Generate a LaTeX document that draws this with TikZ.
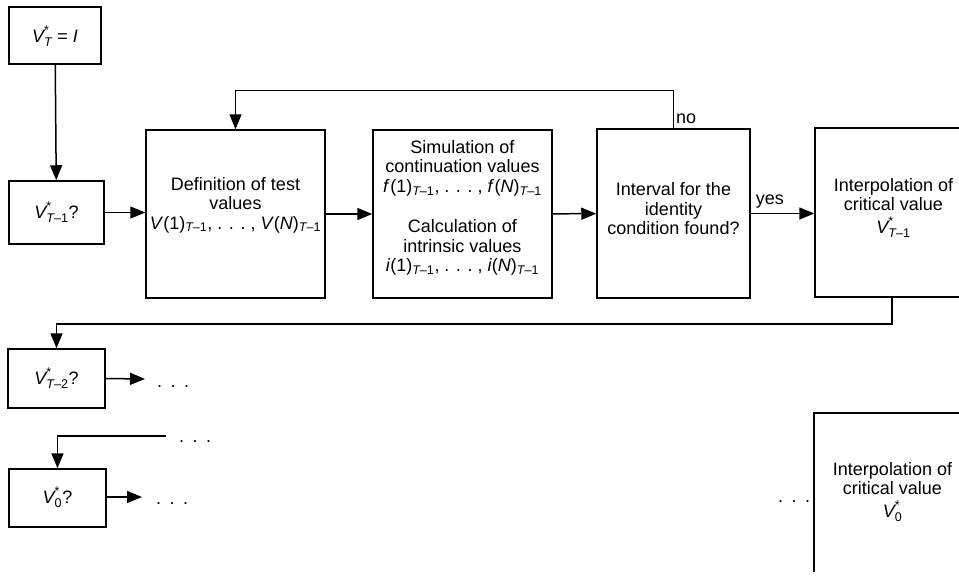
\documentclass[tikz,border=0pt]{standalone}
\usepackage{amsmath}
\usepackage{fontspec}
\setmainfont{Liberation Sans}
\usetikzlibrary{arrows.meta}
\newcommand\subT[1]{$_{\textit{T}\text{–#1}}$}
\newcommand\Vst[1]{$\textit{V}^{\text{*}}_{#1}$}
\newcommand\ddd{.\hspace{6.5pt}.\hspace{6.5pt}.}
\newcommand\dotrow{.\hspace{8.5pt}.\hspace{8.5pt}.}
\begin{document}
\begin{tikzpicture}[x=1pt,y=-1pt,
  box/.style={draw, line width=1.5pt, inner sep=0pt},
  arr/.style={line width=1.5pt, -{Triangle[length=15pt,width=12pt]}},
  ln/.style={line width=1.5pt},
  txt/.style={font=\fontsize{18}{19.5}\selectfont, inner sep=0pt, align=center}]
\useasboundingbox (0,0) rectangle (959,581);
\clip (0,0) rectangle (959,581);
% boxes
\node[box, minimum width=92pt, minimum height=57pt] (vt) at (55,35.5) {};
\node[txt] (vtt) at (55,36) {\Vst{\textit{T}} = \textit{I}};
\node[box, minimum width=95pt, minimum height=63pt] (vt1) at (56.5,212.5) {};
\node[txt] (vt1t) at (56.5,212.5) {\Vst{\textit{T}\text{–1}}?};
\node[box, minimum width=179pt, minimum height=168pt] (def) at (235.5,214) {};
\node[txt] (deft) at (235.5,205)
  {Definition of test\\values\\\textit{V}(1)\subT{1}, \ddd\ , \textit{V}(\textit{N})\subT{1}};
\node[box, minimum width=179pt, minimum height=168pt] (sim) at (462.5,214) {};
\node[txt] (simt) at (462.5,208)
  {Simulation of\\continuation values\\\textit{f}\kern0.5pt(1)\subT{1}, \ddd\ , \textit{f}\kern0.5pt(\textit{N})\subT{1}\\[21pt]
   Calculation of\\intrinsic values\\\textit{i}(1)\subT{1}, \ddd\ , \textit{i}(\textit{N})\subT{1}};
\node[box, minimum width=153pt, minimum height=169pt] (intv) at (673.5,213.5) {};
\node[txt] (intvt) at (673.5,209) {Interval for the\\identity\\condition found?};
\node[box, minimum width=157pt, minimum height=169pt] (interp) at (893.5,212.5) {};
\node[txt] (interpt) at (893.5,208) {Interpolation of\\critical value\\[3pt]\Vst{\textit{T}\text{–1}}};
\node[box, minimum width=97pt, minimum height=59pt] (vt2) at (56.5,378.5) {};
\node[txt] (vt2t) at (56.5,378.5) {\Vst{\textit{T}\text{–2}}?};
\node[box, minimum width=97pt, minimum height=58pt] (v0) at (57.5,498) {};
\node[txt] (v0t) at (57.5,497.5) {\Vst{\text{0}}?};
\node[minimum width=157pt, minimum height=159pt, inner sep=0pt] (interp0) at (892.5,492.5) {};
\node[txt] (interp0t) at (892.5,492) {Interpolation of\\critical value\\[3pt]\Vst{\text{0}}};
\draw[ln] (interp0.south west) -- (interp0.north west) -- (interp0.north east);
% dots
\node[txt, anchor=base] (d1) at (173,387) {\dotrow};
\node[txt, anchor=base] (d2) at (195,442) {\dotrow};
\node[txt, anchor=base] (d3) at (172,504) {\dotrow};
\node[txt, anchor=base] (d4) at (794,502) {\dotrow};
\coordinate (e1) at (145,379);
\coordinate (e2) at (166,436);
\coordinate (e3) at (142,497);
% connectors
\draw[arr] (vt) -- (vt1);
\draw[arr] (vt1) -- (def.west |- vt1);
\draw[arr] (def.east |- sim) -- (sim);
\draw[arr] (sim) -- (intv);
\draw[arr] (intv) -- node[txt, above=5pt, pos=0.3] (yes) {yes} (interp.west |- intv);
\draw[arr] (intv.north) -- ++(0,-38) -| (def.north);
\node[txt, anchor=west] (no) at (676,119) {no};
\draw[arr] ([xshift=-1.5pt]interp.south) -- ++(0,26) -| (vt2.north);
\draw[arr] (vt2.east) -- (e1);
\draw[arr] (e2) -| (v0.north);
\draw[arr] (v0.east |- e3) -- (e3);
\end{tikzpicture}
\end{document}
